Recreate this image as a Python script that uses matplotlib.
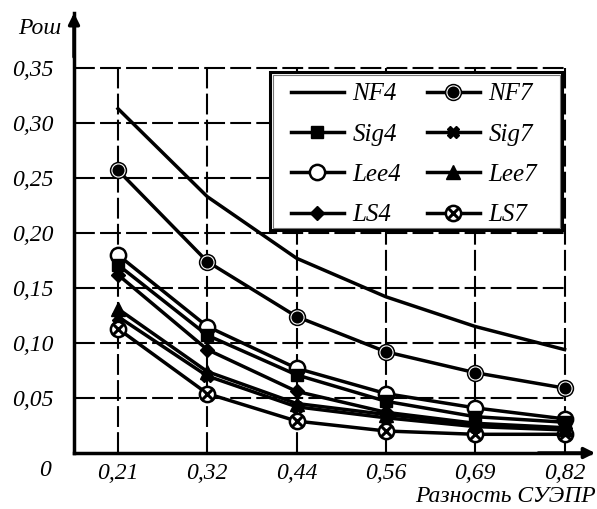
import matplotlib
matplotlib.use("Agg")
import matplotlib.pyplot as plt
from matplotlib.lines import Line2D
from matplotlib.patches import Rectangle

# Category axis (difference of SUEPR) and values for each method
x_labels = ["0,21", "0,32", "0,44", "0,56", "0,69", "0,82"]
y_ticks = [0.05, 0.10, 0.15, 0.20, 0.25, 0.30, 0.35]
y_tick_labels = ["0,05", "0,10", "0,15", "0,20", "0,25", "0,30", "0,35"]

nf4 = [0.313, 0.233, 0.177, 0.142, 0.115, 0.094]
nf7 = [0.257, 0.174, 0.124, 0.092, 0.073, 0.059]
sig4 = [0.171, 0.107, 0.071, 0.047, 0.033, 0.028]
sig7 = [0.124, 0.070, 0.042, 0.032, 0.024, 0.021]
lee4 = [0.180, 0.115, 0.077, 0.054, 0.041, 0.031]
lee7 = [0.131, 0.074, 0.045, 0.035, 0.026, 0.022]
ls4 = [0.162, 0.094, 0.056, 0.037, 0.027, 0.023]
ls7 = [0.113, 0.054, 0.029, 0.020, 0.017, 0.017]

serif = {"family": "Liberation Serif", "style": "italic"}
fs = 17

W, H = 597, 509
fig = plt.figure(figsize=(W / 100, H / 100), dpi=100)
ax = fig.add_axes([74 / W, (H - 453) / H, 516 / W, 440 / H])


def px(x, y):
    """Pixel position (from top-left) to figure fraction."""
    return x / W, 1 - y / H


xpos = list(range(len(x_labels)))
ax.set_xlim(-0.493, 5.285)
ax.set_ylim(0, 0.40)

# dashed grid, limited to the data region
dash = (0, (10, 2.5))
ax.hlines(y_ticks, -0.493, xpos[-1], colors="black", lw=1.5, linestyles=dash, zorder=1)
ax.vlines(xpos, 0, 0.35, colors="black", lw=1.5, linestyles=dash, zorder=1)

lw = 2.5
ms = 10

ax.plot(xpos, nf4, color="black", lw=lw, zorder=3)
ax.plot(xpos, nf7, color="black", lw=lw, zorder=3)
ax.plot(xpos, nf7, ls="none", marker="o", ms=ms + 1.5, mfc="black", mec="black", zorder=4)
ax.plot(xpos, nf7, ls="none", marker="o", ms=ms - 0.5, mfc="black", mec="white", mew=0.8, zorder=4)

ax.plot(xpos, ls7, color="black", lw=lw, marker="o", ms=ms + 1, mfc="white", mec="black", mew=1.8, zorder=4)
ax.plot(xpos, ls7, ls="none", marker="x", ms=ms - 3, mec="black", mew=2.2, zorder=4)

ax.plot(xpos, sig7, color="black", lw=lw, marker="X", ms=ms - 1, mfc="black", mec="black", zorder=5)
ax.plot(xpos, lee7, color="black", lw=lw, marker="^", ms=ms, mfc="black", mec="black", zorder=6)

ax.plot(xpos, lee4, color="black", lw=lw, marker="o", ms=ms + 1, mfc="white", mec="black", mew=1.8, zorder=7)
ax.plot(xpos, sig4, color="black", lw=lw, marker="s", ms=ms - 1, mfc="black", mec="black", zorder=8)
ax.plot(xpos, ls4, color="black", lw=lw, marker="D", ms=ms - 2.5, mfc="black", mec="black", zorder=9)

# axes styling
for side in ("top", "right"):
    ax.spines[side].set_visible(False)
for side in ("left", "bottom"):
    ax.spines[side].set_linewidth(2.5)
ax.set_xticks(xpos)
ax.set_xticklabels(x_labels, fontdict=serif, fontsize=fs)
ax.set_yticks(y_ticks)
ax.set_yticklabels(y_tick_labels, fontdict=serif, fontsize=fs)
ax.tick_params(axis="both", length=0)
ax.tick_params(axis="x", pad=7)
ax.tick_params(axis="y", pad=15)

# axis arrows
ax.annotate("", xy=(0, 1.0), xytext=(0, 0.9), xycoords="axes fraction",
            arrowprops=dict(arrowstyle="-|>", color="black", lw=2.5, mutation_scale=16,
                            shrinkA=0, shrinkB=0), annotation_clip=False)
ax.annotate("", xy=(1.01, 0), xytext=(0.9, 0), xycoords="axes fraction",
            arrowprops=dict(arrowstyle="-|>", color="black", lw=2.5, mutation_scale=16,
                            shrinkA=0, shrinkB=0), annotation_clip=False)

fig.text(*px(40, 28), "Рош", fontdict=serif, fontsize=fs, ha="center", va="center")
fig.text(*px(45, 470), "0", fontdict=serif, fontsize=fs, ha="center", va="center")
fig.text(*px(596, 496), "Разность СУЭПР", fontdict=serif, fontsize=fs,
         ha="right", va="center")

# legend box: black outer border with a thin grey inner line
x0, y0, x1, y1 = 270, 72, 562, 230
ax.add_patch(Rectangle(px(x0, y1), (x1 - x0) / W, (y1 - y0) / H, transform=fig.transFigure,
                       facecolor="white", edgecolor="black", lw=2.2, zorder=19, clip_on=False))
ax.add_patch(Rectangle(px(x0 + 2.5, y1 - 2.5), (x1 - x0 - 5) / W, (y1 - y0 - 5) / H,
                       transform=fig.transFigure, facecolor="none", edgecolor="#777777",
                       lw=0.8, zorder=19.5, clip_on=False))


# legend with composite marker handles
def h(marker=None, **kw):
    return Line2D([], [], color="black", lw=lw, marker=marker, **kw)


handles = [
    h(),
    h("s", ms=ms - 1, mfc="black", mec="black"),
    h("o", ms=ms + 1, mfc="white", mec="black", mew=1.8),
    h("D", ms=ms - 2.5, mfc="black", mec="black"),
    (h("o", ms=ms + 1.5, mfc="black", mec="black"),
     Line2D([], [], ls="none", marker="o", ms=ms - 0.5, mfc="black", mec="white", mew=0.8)),
    h("X", ms=ms - 1, mfc="black", mec="black"),
    h("^", ms=ms, mfc="black", mec="black"),
    (h("o", ms=ms + 1, mfc="white", mec="black", mew=1.8),
     Line2D([], [], ls="none", marker="x", ms=ms - 3, mec="black", mew=2.2)),
]
labels = ["NF4", "Sig4", "Lee4", "LS4", "NF7", "Sig7", "Lee7", "LS7"]
leg = ax.legend(handles, labels, ncol=2, loc="upper left",
                bbox_to_anchor=px(291, 83), bbox_transform=fig.transFigure,
                borderaxespad=0, borderpad=0, frameon=False,
                prop={"family": "Liberation Serif", "style": "italic", "size": 18},
                handlelength=2.1, handletextpad=0.35, labelspacing=0.71,
                columnspacing=1.05)
leg.set_zorder(20)

fig.savefig("out.png", dpi=100)
